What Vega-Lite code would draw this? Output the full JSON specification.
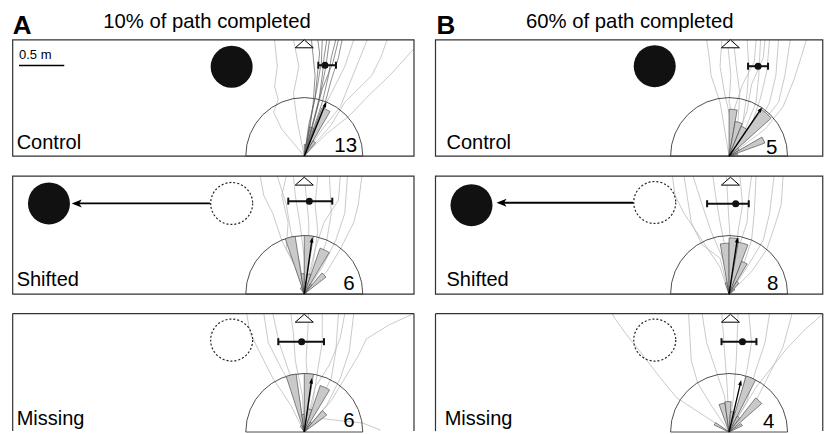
{
"$schema": "https://vega.github.io/schema/vega-lite/v6.json",
"width": 825, "height": 434,
"autosize": {"type": "fit", "contains": "padding"},
"padding": 0,
"background": "white",
"config": {"view": {"stroke": null}, "font": "Liberation Sans"},
"datasets": {
"frames": [
{"x":-3.24,"x2":1.219,"y":3.08,"y2":4.378},
{"x":1.458,"x2":5.761,"y":3.08,"y2":4.378},
{"x":-3.24,"x2":1.219,"y":1.54,"y2":2.856},
{"x":1.458,"x2":5.761,"y":1.54,"y2":2.856}
],
"frame3": [
{"x":-3.24,"x2":-3.24,"y":0.01,"y2":1.322},
{"x":-3.24,"x2":1.219,"y":1.322,"y2":1.322},
{"x":1.219,"x2":1.219,"y":0.01,"y2":1.322},
{"x":1.458,"x2":1.458,"y":0.01,"y2":1.322},
{"x":1.458,"x2":5.761,"y":1.322,"y2":1.322},
{"x":5.761,"x2":5.761,"y":0.01,"y2":1.322}
],
"semis": [
{"x":0,"y":3.08,"a0":270,"a1":450,"r":1},
{"x":4.72,"y":3.08,"a0":270,"a1":450,"r":1},
{"x":0,"y":1.54,"a0":270,"a1":450,"r":1},
{"x":4.72,"y":1.54,"a0":270,"a1":450,"r":1},
{"x":0,"y":0,"a0":270,"a1":450,"r":1},
{"x":4.72,"y":0,"a0":270,"a1":450,"r":1}
],
"wedges": [
{"x":0,"y":3.08,"a0":0,"a1":10,"r":0.2},
{"x":0,"y":3.08,"a0":10,"a1":20,"r":0.5},
{"x":0,"y":3.08,"a0":20,"a1":30,"r":0.88},
{"x":0,"y":3.08,"a0":30,"a1":40,"r":0.3},
{"x":4.72,"y":3.08,"a0":0,"a1":10,"r":0.8},
{"x":4.72,"y":3.08,"a0":10,"a1":22,"r":0.6},
{"x":4.72,"y":3.08,"a0":22,"a1":35,"r":0.55},
{"x":4.72,"y":3.08,"a0":35,"a1":48,"r":0.97},
{"x":4.72,"y":3.08,"a0":48,"a1":60,"r":0.2},
{"x":4.72,"y":3.08,"a0":60,"a1":70,"r":0.65},
{"x":4.72,"y":3.08,"a0":70,"a1":80,"r":0.15},
{"x":0,"y":1.54,"a0":325,"a1":341,"r":0.12},
{"x":0,"y":1.54,"a0":341,"a1":351,"r":1.0},
{"x":0,"y":1.54,"a0":351,"a1":360,"r":0.35},
{"x":0,"y":1.54,"a0":0,"a1":9,"r":1.0},
{"x":0,"y":1.54,"a0":9,"a1":19,"r":0.35},
{"x":0,"y":1.54,"a0":19,"a1":31,"r":0.83},
{"x":0,"y":1.54,"a0":31,"a1":40,"r":0.2},
{"x":0,"y":1.54,"a0":40,"a1":52,"r":0.47},
{"x":4.72,"y":1.54,"a0":340,"a1":350,"r":0.2},
{"x":4.72,"y":1.54,"a0":350,"a1":360,"r":0.87},
{"x":4.72,"y":1.54,"a0":0,"a1":10,"r":0.96},
{"x":4.72,"y":1.54,"a0":10,"a1":21,"r":0.9},
{"x":4.72,"y":1.54,"a0":21,"a1":31,"r":0.6},
{"x":4.72,"y":1.54,"a0":31,"a1":42,"r":0.25},
{"x":4.72,"y":1.54,"a0":42,"a1":55,"r":0.12},
{"x":0,"y":0,"a0":325,"a1":342,"r":0.12},
{"x":0,"y":0,"a0":342,"a1":352,"r":1.0},
{"x":0,"y":0,"a0":352,"a1":360,"r":0.3},
{"x":0,"y":0,"a0":0,"a1":9,"r":1.0},
{"x":0,"y":0,"a0":9,"a1":19,"r":0.4},
{"x":0,"y":0,"a0":19,"a1":31,"r":0.84},
{"x":0,"y":0,"a0":31,"a1":40,"r":0.2},
{"x":0,"y":0,"a0":40,"a1":53,"r":0.48},
{"x":4.72,"y":0,"a0":295,"a1":305,"r":0.28},
{"x":4.72,"y":0,"a0":340,"a1":352,"r":0.5},
{"x":4.72,"y":0,"a0":352,"a1":364,"r":0.52},
{"x":4.72,"y":0,"a0":4,"a1":17,"r":0.35},
{"x":4.72,"y":0,"a0":17,"a1":27,"r":1.0},
{"x":4.72,"y":0,"a0":27,"a1":38,"r":0.3},
{"x":4.72,"y":0,"a0":38,"a1":49,"r":0.74},
{"x":4.72,"y":0,"a0":55,"a1":65,"r":0.25}
],
"traj": [
{"id":"a1d1","g":"d","o":0,"x":0,"y":3.08},{"id":"a1d1","g":"d","o":1,"x":0.08,"y":3.38},{"id":"a1d1","g":"d","o":2,"x":0.16,"y":3.68},{"id":"a1d1","g":"d","o":3,"x":0.2,"y":3.98},{"id":"a1d1","g":"d","o":4,"x":0.22,"y":4.18},{"id":"a1d1","g":"d","o":5,"x":0.25,"y":4.378},
{"id":"a1d2","g":"d","o":0,"x":0,"y":3.08},{"id":"a1d2","g":"d","o":1,"x":0.1,"y":3.38},{"id":"a1d2","g":"d","o":2,"x":0.2,"y":3.68},{"id":"a1d2","g":"d","o":3,"x":0.27,"y":3.98},{"id":"a1d2","g":"d","o":4,"x":0.3,"y":4.18},{"id":"a1d2","g":"d","o":5,"x":0.35,"y":4.378},
{"id":"a1d3","g":"d","o":0,"x":0,"y":3.08},{"id":"a1d3","g":"d","o":1,"x":0.05,"y":3.43},{"id":"a1d3","g":"d","o":2,"x":0.12,"y":3.73},{"id":"a1d3","g":"d","o":3,"x":0.15,"y":4.03},{"id":"a1d3","g":"d","o":4,"x":0.17,"y":4.23},{"id":"a1d3","g":"d","o":5,"x":0.15,"y":4.378},
{"id":"a1d4","g":"d","o":0,"x":0,"y":3.08},{"id":"a1d4","g":"d","o":1,"x":0.12,"y":3.38},{"id":"a1d4","g":"d","o":2,"x":0.22,"y":3.63},{"id":"a1d4","g":"d","o":3,"x":0.3,"y":3.93},{"id":"a1d4","g":"d","o":4,"x":0.38,"y":4.18},{"id":"a1d4","g":"d","o":5,"x":0.42,"y":4.378},
{"id":"a1d5","g":"d","o":0,"x":0,"y":3.08},{"id":"a1d5","g":"d","o":1,"x":0.06,"y":3.38},{"id":"a1d5","g":"d","o":2,"x":0.1,"y":3.68},{"id":"a1d5","g":"d","o":3,"x":0.12,"y":3.98},{"id":"a1d5","g":"d","o":4,"x":0.1,"y":4.18},{"id":"a1d5","g":"d","o":5,"x":0.08,"y":4.378},
{"id":"a1d6","g":"d","o":0,"x":0,"y":3.08},{"id":"a1d6","g":"d","o":1,"x":0.09,"y":3.43},{"id":"a1d6","g":"d","o":2,"x":0.18,"y":3.78},{"id":"a1d6","g":"d","o":3,"x":0.24,"y":4.08},{"id":"a1d6","g":"d","o":4,"x":0.28,"y":4.378},
{"id":"a1d7","g":"d","o":0,"x":0,"y":3.08},{"id":"a1d7","g":"d","o":1,"x":0.07,"y":3.48},{"id":"a1d7","g":"d","o":2,"x":0.14,"y":3.83},{"id":"a1d7","g":"d","o":3,"x":0.19,"y":4.13},{"id":"a1d7","g":"d","o":4,"x":0.2,"y":4.378},
{"id":"a1d8","g":"d","o":0,"x":0,"y":3.08},{"id":"a1d8","g":"d","o":1,"x":0.11,"y":3.48},{"id":"a1d8","g":"d","o":2,"x":0.2,"y":3.83},{"id":"a1d8","g":"d","o":3,"x":0.32,"y":4.13},{"id":"a1d8","g":"d","o":4,"x":0.38,"y":4.378},
{"id":"a1l9","g":"l","o":0,"x":0,"y":3.08},{"id":"a1l9","g":"l","o":1,"x":-0.25,"y":3.38},{"id":"a1l9","g":"l","o":2,"x":-0.34,"y":3.57},{"id":"a1l9","g":"l","o":3,"x":-0.29,"y":3.71},{"id":"a1l9","g":"l","o":4,"x":-0.33,"y":3.86},{"id":"a1l9","g":"l","o":5,"x":-0.3,"y":4.08},{"id":"a1l9","g":"l","o":6,"x":-0.33,"y":4.378},
{"id":"a1l10","g":"l","o":0,"x":0,"y":3.08},{"id":"a1l10","g":"l","o":1,"x":0.25,"y":3.33},{"id":"a1l10","g":"l","o":2,"x":0.5,"y":3.53},{"id":"a1l10","g":"l","o":3,"x":0.73,"y":3.77},{"id":"a1l10","g":"l","o":4,"x":0.95,"y":3.98},{"id":"a1l10","g":"l","o":5,"x":1.219,"y":4.28},
{"id":"a1l11","g":"l","o":0,"x":0,"y":3.08},{"id":"a1l11","g":"l","o":1,"x":0.2,"y":3.38},{"id":"a1l11","g":"l","o":2,"x":0.4,"y":3.63},{"id":"a1l11","g":"l","o":3,"x":0.5,"y":3.88},{"id":"a1l11","g":"l","o":4,"x":0.6,"y":4.13},{"id":"a1l11","g":"l","o":5,"x":0.7,"y":4.378},
{"id":"a1l12","g":"l","o":0,"x":0,"y":3.08},{"id":"a1l12","g":"l","o":1,"x":0.15,"y":3.48},{"id":"a1l12","g":"l","o":2,"x":0.3,"y":3.78},{"id":"a1l12","g":"l","o":3,"x":0.45,"y":4.08},{"id":"a1l12","g":"l","o":4,"x":0.55,"y":4.378},
{"id":"a1l13","g":"l","o":0,"x":0,"y":3.08},{"id":"a1l13","g":"l","o":1,"x":-0.08,"y":3.48},{"id":"a1l13","g":"l","o":2,"x":-0.12,"y":3.78},{"id":"a1l13","g":"l","o":3,"x":-0.06,"y":4.08},{"id":"a1l13","g":"l","o":4,"x":-0.12,"y":4.378},
{"id":"a1l14","g":"l","o":0,"x":0,"y":3.08},{"id":"a1l14","g":"l","o":1,"x":0.3,"y":3.43},{"id":"a1l14","g":"l","o":2,"x":0.45,"y":3.68},{"id":"a1l14","g":"l","o":3,"x":0.75,"y":3.98},{"id":"a1l14","g":"l","o":4,"x":0.85,"y":4.18},{"id":"a1l14","g":"l","o":5,"x":0.92,"y":4.378},
{"id":"b1l1","g":"l","o":0,"x":4.72,"y":3.08},{"id":"b1l1","g":"l","o":1,"x":4.67,"y":3.38},{"id":"b1l1","g":"l","o":2,"x":4.62,"y":3.68},{"id":"b1l1","g":"l","o":3,"x":4.52,"y":3.98},{"id":"b1l1","g":"l","o":4,"x":4.5,"y":4.18},{"id":"b1l1","g":"l","o":5,"x":4.47,"y":4.378},
{"id":"b1l2","g":"l","o":0,"x":4.72,"y":3.08},{"id":"b1l2","g":"l","o":1,"x":4.74,"y":3.48},{"id":"b1l2","g":"l","o":2,"x":4.67,"y":3.78},{"id":"b1l2","g":"l","o":3,"x":4.62,"y":4.08},{"id":"b1l2","g":"l","o":4,"x":4.64,"y":4.378},
{"id":"b1l3","g":"l","o":0,"x":4.72,"y":3.08},{"id":"b1l3","g":"l","o":1,"x":4.82,"y":3.48},{"id":"b1l3","g":"l","o":2,"x":4.84,"y":3.78},{"id":"b1l3","g":"l","o":3,"x":4.8,"y":4.08},{"id":"b1l3","g":"l","o":4,"x":4.77,"y":4.378},
{"id":"b1l4","g":"l","o":0,"x":4.72,"y":3.08},{"id":"b1l4","g":"l","o":1,"x":4.87,"y":3.43},{"id":"b1l4","g":"l","o":2,"x":4.92,"y":3.78},{"id":"b1l4","g":"l","o":3,"x":4.94,"y":4.08},{"id":"b1l4","g":"l","o":4,"x":4.92,"y":4.378},
{"id":"b1l5","g":"l","o":0,"x":4.72,"y":3.08},{"id":"b1l5","g":"l","o":1,"x":4.9,"y":3.38},{"id":"b1l5","g":"l","o":2,"x":5.02,"y":3.68},{"id":"b1l5","g":"l","o":3,"x":5.05,"y":3.98},{"id":"b1l5","g":"l","o":4,"x":5.07,"y":4.378},
{"id":"b1l6","g":"l","o":0,"x":4.72,"y":3.08},{"id":"b1l6","g":"l","o":1,"x":4.97,"y":3.43},{"id":"b1l6","g":"l","o":2,"x":5.07,"y":3.73},{"id":"b1l6","g":"l","o":3,"x":5.14,"y":4.03},{"id":"b1l6","g":"l","o":4,"x":5.17,"y":4.378},
{"id":"b1l7","g":"l","o":0,"x":4.72,"y":3.08},{"id":"b1l7","g":"l","o":1,"x":5.02,"y":3.38},{"id":"b1l7","g":"l","o":2,"x":5.17,"y":3.68},{"id":"b1l7","g":"l","o":3,"x":5.24,"y":3.98},{"id":"b1l7","g":"l","o":4,"x":5.27,"y":4.378},
{"id":"b1l8","g":"l","o":0,"x":4.72,"y":3.08},{"id":"b1l8","g":"l","o":1,"x":5.07,"y":3.43},{"id":"b1l8","g":"l","o":2,"x":5.27,"y":3.68},{"id":"b1l8","g":"l","o":3,"x":5.34,"y":3.98},{"id":"b1l8","g":"l","o":4,"x":5.4,"y":4.378},
{"id":"b1l9","g":"l","o":0,"x":4.72,"y":3.08},{"id":"b1l9","g":"l","o":1,"x":5.12,"y":3.38},{"id":"b1l9","g":"l","o":2,"x":5.32,"y":3.63},{"id":"b1l9","g":"l","o":3,"x":5.44,"y":3.93},{"id":"b1l9","g":"l","o":4,"x":5.52,"y":4.18},{"id":"b1l9","g":"l","o":5,"x":5.58,"y":4.378},
{"id":"b1l10","g":"l","o":0,"x":4.72,"y":3.08},{"id":"b1l10","g":"l","o":1,"x":4.77,"y":3.58},{"id":"b1l10","g":"l","o":2,"x":4.87,"y":3.88},{"id":"b1l10","g":"l","o":3,"x":5.0,"y":4.13},{"id":"b1l10","g":"l","o":4,"x":5.02,"y":4.378},
{"id":"b1l11","g":"l","o":0,"x":4.72,"y":3.08},{"id":"b1l11","g":"l","o":1,"x":4.92,"y":3.58},{"id":"b1l11","g":"l","o":2,"x":4.97,"y":3.88},{"id":"b1l11","g":"l","o":3,"x":5.1,"y":4.18},{"id":"b1l11","g":"l","o":4,"x":5.12,"y":4.378},
{"id":"b1l12","g":"l","o":0,"x":4.72,"y":3.08},{"id":"b1l12","g":"l","o":1,"x":4.8,"y":3.38},{"id":"b1l12","g":"l","o":2,"x":4.72,"y":3.68},{"id":"b1l12","g":"l","o":3,"x":4.74,"y":3.98},{"id":"b1l12","g":"l","o":4,"x":4.7,"y":4.378},
{"id":"a2l1","g":"l","o":0,"x":0,"y":1.54},{"id":"a2l1","g":"l","o":1,"x":-0.1,"y":1.84},{"id":"a2l1","g":"l","o":2,"x":-0.25,"y":2.14},{"id":"a2l1","g":"l","o":3,"x":-0.35,"y":2.44},{"id":"a2l1","g":"l","o":4,"x":-0.45,"y":2.64},{"id":"a2l1","g":"l","o":5,"x":-0.49,"y":2.856},
{"id":"a2l2","g":"l","o":0,"x":0,"y":1.54},{"id":"a2l2","g":"l","o":1,"x":-0.05,"y":1.89},{"id":"a2l2","g":"l","o":2,"x":-0.15,"y":2.24},{"id":"a2l2","g":"l","o":3,"x":-0.2,"y":2.54},{"id":"a2l2","g":"l","o":4,"x":-0.3,"y":2.856},
{"id":"a2l3","g":"l","o":0,"x":0,"y":1.54},{"id":"a2l3","g":"l","o":1,"x":0,"y":1.94},{"id":"a2l3","g":"l","o":2,"x":-0.05,"y":2.34},{"id":"a2l3","g":"l","o":3,"x":-0.1,"y":2.64},{"id":"a2l3","g":"l","o":4,"x":-0.12,"y":2.856},
{"id":"a2l4","g":"l","o":0,"x":0,"y":1.54},{"id":"a2l4","g":"l","o":1,"x":0.05,"y":1.94},{"id":"a2l4","g":"l","o":2,"x":0.05,"y":2.34},{"id":"a2l4","g":"l","o":3,"x":0,"y":2.856},
{"id":"a2l5","g":"l","o":0,"x":0,"y":1.54},{"id":"a2l5","g":"l","o":1,"x":0.1,"y":1.89},{"id":"a2l5","g":"l","o":2,"x":0.15,"y":2.24},{"id":"a2l5","g":"l","o":3,"x":0.12,"y":2.54},{"id":"a2l5","g":"l","o":4,"x":0.15,"y":2.856},
{"id":"a2l6","g":"l","o":0,"x":0,"y":1.54},{"id":"a2l6","g":"l","o":1,"x":0.15,"y":1.84},{"id":"a2l6","g":"l","o":2,"x":0.25,"y":2.14},{"id":"a2l6","g":"l","o":3,"x":0.3,"y":2.44},{"id":"a2l6","g":"l","o":4,"x":0.28,"y":2.856},
{"id":"a2l7","g":"l","o":0,"x":0,"y":1.54},{"id":"a2l7","g":"l","o":1,"x":0.2,"y":1.84},{"id":"a2l7","g":"l","o":2,"x":0.35,"y":2.14},{"id":"a2l7","g":"l","o":3,"x":0.45,"y":2.44},{"id":"a2l7","g":"l","o":4,"x":0.48,"y":2.856},
{"id":"a2l8","g":"l","o":0,"x":0,"y":1.54},{"id":"a2l8","g":"l","o":1,"x":0.25,"y":1.79},{"id":"a2l8","g":"l","o":2,"x":0.4,"y":2.04},{"id":"a2l8","g":"l","o":3,"x":0.55,"y":2.34},{"id":"a2l8","g":"l","o":4,"x":0.6,"y":2.54},{"id":"a2l8","g":"l","o":5,"x":0.64,"y":2.856},
{"id":"a2l9","g":"l","o":0,"x":0,"y":1.54},{"id":"a2l9","g":"l","o":1,"x":-0.08,"y":1.84},{"id":"a2l9","g":"l","o":2,"x":-0.2,"y":2.04},{"id":"a2l9","g":"l","o":3,"x":-0.18,"y":2.34},{"id":"a2l9","g":"l","o":4,"x":-0.25,"y":2.64},{"id":"a2l9","g":"l","o":5,"x":-0.2,"y":2.856},
{"id":"a2l10","g":"l","o":0,"x":0,"y":1.54},{"id":"a2l10","g":"l","o":1,"x":0.12,"y":2.04},{"id":"a2l10","g":"l","o":2,"x":0.22,"y":2.34},{"id":"a2l10","g":"l","o":3,"x":0.38,"y":2.59},{"id":"a2l10","g":"l","o":4,"x":0.4,"y":2.856},
{"id":"b2l1","g":"l","o":0,"x":4.72,"y":1.54},{"id":"b2l1","g":"l","o":1,"x":4.62,"y":1.84},{"id":"b2l1","g":"l","o":2,"x":4.42,"y":2.14},{"id":"b2l1","g":"l","o":3,"x":4.22,"y":2.44},{"id":"b2l1","g":"l","o":4,"x":4.12,"y":2.64},{"id":"b2l1","g":"l","o":5,"x":4.09,"y":2.856},
{"id":"b2l2","g":"l","o":0,"x":4.72,"y":1.54},{"id":"b2l2","g":"l","o":1,"x":4.67,"y":1.89},{"id":"b2l2","g":"l","o":2,"x":4.52,"y":2.24},{"id":"b2l2","g":"l","o":3,"x":4.42,"y":2.54},{"id":"b2l2","g":"l","o":4,"x":4.32,"y":2.856},
{"id":"b2l3","g":"l","o":0,"x":4.72,"y":1.54},{"id":"b2l3","g":"l","o":1,"x":4.7,"y":1.94},{"id":"b2l3","g":"l","o":2,"x":4.62,"y":2.34},{"id":"b2l3","g":"l","o":3,"x":4.57,"y":2.64},{"id":"b2l3","g":"l","o":4,"x":4.54,"y":2.856},
{"id":"b2l4","g":"l","o":0,"x":4.72,"y":1.54},{"id":"b2l4","g":"l","o":1,"x":4.75,"y":1.94},{"id":"b2l4","g":"l","o":2,"x":4.72,"y":2.34},{"id":"b2l4","g":"l","o":3,"x":4.69,"y":2.856},
{"id":"b2l5","g":"l","o":0,"x":4.72,"y":1.54},{"id":"b2l5","g":"l","o":1,"x":4.8,"y":1.89},{"id":"b2l5","g":"l","o":2,"x":4.82,"y":2.24},{"id":"b2l5","g":"l","o":3,"x":4.87,"y":2.54},{"id":"b2l5","g":"l","o":4,"x":4.84,"y":2.856},
{"id":"b2l6","g":"l","o":0,"x":4.72,"y":1.54},{"id":"b2l6","g":"l","o":1,"x":4.87,"y":1.84},{"id":"b2l6","g":"l","o":2,"x":4.97,"y":2.14},{"id":"b2l6","g":"l","o":3,"x":5.0,"y":2.44},{"id":"b2l6","g":"l","o":4,"x":5.02,"y":2.856},
{"id":"b2l7","g":"l","o":0,"x":4.72,"y":1.54},{"id":"b2l7","g":"l","o":1,"x":4.92,"y":1.84},{"id":"b2l7","g":"l","o":2,"x":5.1,"y":2.14},{"id":"b2l7","g":"l","o":3,"x":5.17,"y":2.44},{"id":"b2l7","g":"l","o":4,"x":5.22,"y":2.856},
{"id":"b2l8","g":"l","o":0,"x":4.72,"y":1.54},{"id":"b2l8","g":"l","o":1,"x":4.97,"y":1.79},{"id":"b2l8","g":"l","o":2,"x":5.14,"y":2.04},{"id":"b2l8","g":"l","o":3,"x":5.24,"y":2.34},{"id":"b2l8","g":"l","o":4,"x":5.3,"y":2.54},{"id":"b2l8","g":"l","o":5,"x":5.32,"y":2.856},
{"id":"b2l9","g":"l","o":0,"x":4.72,"y":1.54},{"id":"b2l9","g":"l","o":1,"x":4.62,"y":1.94},{"id":"b2l9","g":"l","o":2,"x":4.42,"y":2.09},{"id":"b2l9","g":"l","o":3,"x":4.3,"y":2.34},{"id":"b2l9","g":"l","o":4,"x":4.22,"y":2.856},
{"id":"b2l10","g":"l","o":0,"x":4.72,"y":1.54},{"id":"b2l10","g":"l","o":1,"x":4.82,"y":2.04},{"id":"b2l10","g":"l","o":2,"x":4.92,"y":2.34},{"id":"b2l10","g":"l","o":3,"x":4.94,"y":2.64},{"id":"b2l10","g":"l","o":4,"x":4.97,"y":2.856},
{"id":"a3l1","g":"l","o":0,"x":0,"y":0},{"id":"a3l1","g":"l","o":1,"x":-0.15,"y":0.3},{"id":"a3l1","g":"l","o":2,"x":-0.35,"y":0.6},{"id":"a3l1","g":"l","o":3,"x":-0.5,"y":0.9},{"id":"a3l1","g":"l","o":4,"x":-0.6,"y":1.1},{"id":"a3l1","g":"l","o":5,"x":-0.64,"y":1.322},
{"id":"a3l2","g":"l","o":0,"x":0,"y":0},{"id":"a3l2","g":"l","o":1,"x":-0.05,"y":0.35},{"id":"a3l2","g":"l","o":2,"x":-0.18,"y":0.7},{"id":"a3l2","g":"l","o":3,"x":-0.28,"y":1.0},{"id":"a3l2","g":"l","o":4,"x":-0.35,"y":1.322},
{"id":"a3l3","g":"l","o":0,"x":0,"y":0},{"id":"a3l3","g":"l","o":1,"x":-0.02,"y":0.4},{"id":"a3l3","g":"l","o":2,"x":-0.1,"y":0.8},{"id":"a3l3","g":"l","o":3,"x":-0.12,"y":1.1},{"id":"a3l3","g":"l","o":4,"x":-0.15,"y":1.322},
{"id":"a3l4","g":"l","o":0,"x":0,"y":0},{"id":"a3l4","g":"l","o":1,"x":0.05,"y":0.4},{"id":"a3l4","g":"l","o":2,"x":0.02,"y":0.8},{"id":"a3l4","g":"l","o":3,"x":0.05,"y":1.322},
{"id":"a3l5","g":"l","o":0,"x":0,"y":0},{"id":"a3l5","g":"l","o":1,"x":0.1,"y":0.35},{"id":"a3l5","g":"l","o":2,"x":0.15,"y":0.7},{"id":"a3l5","g":"l","o":3,"x":0.2,"y":1.0},{"id":"a3l5","g":"l","o":4,"x":0.2,"y":1.322},
{"id":"a3l6","g":"l","o":0,"x":0,"y":0},{"id":"a3l6","g":"l","o":1,"x":0.15,"y":0.3},{"id":"a3l6","g":"l","o":2,"x":0.3,"y":0.6},{"id":"a3l6","g":"l","o":3,"x":0.35,"y":0.9},{"id":"a3l6","g":"l","o":4,"x":0.38,"y":1.322},
{"id":"a3l7","g":"l","o":0,"x":0,"y":0},{"id":"a3l7","g":"l","o":1,"x":0.25,"y":0.3},{"id":"a3l7","g":"l","o":2,"x":0.4,"y":0.6},{"id":"a3l7","g":"l","o":3,"x":0.5,"y":0.9},{"id":"a3l7","g":"l","o":4,"x":0.55,"y":1.322},
{"id":"a3l8","g":"l","o":0,"x":0,"y":0},{"id":"a3l8","g":"l","o":1,"x":0.3,"y":0.35},{"id":"a3l8","g":"l","o":2,"x":0.45,"y":0.6},{"id":"a3l8","g":"l","o":3,"x":0.6,"y":0.85},{"id":"a3l8","g":"l","o":4,"x":0.69,"y":1.04},{"id":"a3l8","g":"l","o":5,"x":0.95,"y":1.2},{"id":"a3l8","g":"l","o":6,"x":1.219,"y":1.322},
{"id":"a3l9","g":"l","o":0,"x":0,"y":0.01},{"id":"a3l9","g":"l","o":1,"x":0.2,"y":0.15},{"id":"a3l9","g":"l","o":2,"x":0.45,"y":0.12},{"id":"a3l9","g":"l","o":3,"x":0.65,"y":0.1},{"id":"a3l9","g":"l","o":4,"x":0.85,"y":0.02},
{"id":"a3l10","g":"l","o":0,"x":0,"y":0},{"id":"a3l10","g":"l","o":1,"x":-0.1,"y":0.45},{"id":"a3l10","g":"l","o":2,"x":-0.25,"y":0.7},{"id":"a3l10","g":"l","o":3,"x":-0.4,"y":1.0},{"id":"a3l10","g":"l","o":4,"x":-0.45,"y":1.322},
{"id":"a3l11","g":"l","o":0,"x":0,"y":0},{"id":"a3l11","g":"l","o":1,"x":0.12,"y":0.5},{"id":"a3l11","g":"l","o":2,"x":0.28,"y":0.75},{"id":"a3l11","g":"l","o":3,"x":0.4,"y":1.05},{"id":"a3l11","g":"l","o":4,"x":0.45,"y":1.322},
{"id":"b3l1","g":"l","o":0,"x":4.72,"y":0},{"id":"b3l1","g":"l","o":1,"x":4.43,"y":0.19},{"id":"b3l1","g":"l","o":2,"x":4.14,"y":0.38},{"id":"b3l1","g":"l","o":3,"x":3.92,"y":0.65},{"id":"b3l1","g":"l","o":4,"x":3.73,"y":0.9},{"id":"b3l1","g":"l","o":5,"x":3.57,"y":1.1},{"id":"b3l1","g":"l","o":6,"x":3.45,"y":1.27},{"id":"b3l1","g":"l","o":7,"x":3.42,"y":1.322},
{"id":"b3l2","g":"l","o":0,"x":4.72,"y":0},{"id":"b3l2","g":"l","o":1,"x":4.87,"y":0.25},{"id":"b3l2","g":"l","o":2,"x":5.02,"y":0.5},{"id":"b3l2","g":"l","o":3,"x":5.36,"y":0.93},{"id":"b3l2","g":"l","o":4,"x":5.57,"y":1.15},{"id":"b3l2","g":"l","o":5,"x":5.73,"y":1.29},{"id":"b3l2","g":"l","o":6,"x":5.76,"y":1.322},
{"id":"b3l3","g":"l","o":0,"x":4.72,"y":0},{"id":"b3l3","g":"l","o":1,"x":4.67,"y":0.4},{"id":"b3l3","g":"l","o":2,"x":4.57,"y":0.7},{"id":"b3l3","g":"l","o":3,"x":4.47,"y":1.0},{"id":"b3l3","g":"l","o":4,"x":4.42,"y":1.322},
{"id":"b3l4","g":"l","o":0,"x":4.72,"y":0},{"id":"b3l4","g":"l","o":1,"x":4.7,"y":0.5},{"id":"b3l4","g":"l","o":2,"x":4.67,"y":0.9},{"id":"b3l4","g":"l","o":3,"x":4.64,"y":1.322},
{"id":"b3l5","g":"l","o":0,"x":4.72,"y":0},{"id":"b3l5","g":"l","o":1,"x":4.77,"y":0.4},{"id":"b3l5","g":"l","o":2,"x":4.8,"y":0.8},{"id":"b3l5","g":"l","o":3,"x":4.82,"y":1.322},
{"id":"b3l6","g":"l","o":0,"x":4.72,"y":0},{"id":"b3l6","g":"l","o":1,"x":4.84,"y":0.35},{"id":"b3l6","g":"l","o":2,"x":4.92,"y":0.7},{"id":"b3l6","g":"l","o":3,"x":4.97,"y":1.0},{"id":"b3l6","g":"l","o":4,"x":4.94,"y":1.322},
{"id":"b3l7","g":"l","o":0,"x":4.72,"y":0},{"id":"b3l7","g":"l","o":1,"x":4.92,"y":0.35},{"id":"b3l7","g":"l","o":2,"x":5.02,"y":0.7},{"id":"b3l7","g":"l","o":3,"x":5.12,"y":1.0},{"id":"b3l7","g":"l","o":4,"x":5.17,"y":1.322},
{"id":"b3l8","g":"l","o":0,"x":4.72,"y":0},{"id":"b3l8","g":"l","o":1,"x":5.02,"y":0.35},{"id":"b3l8","g":"l","o":2,"x":5.17,"y":0.65},{"id":"b3l8","g":"l","o":3,"x":5.32,"y":0.95},{"id":"b3l8","g":"l","o":4,"x":5.42,"y":1.322},
{"id":"b3l9","g":"l","o":0,"x":4.72,"y":0},{"id":"b3l9","g":"l","o":1,"x":4.52,"y":0.3},{"id":"b3l9","g":"l","o":2,"x":4.37,"y":0.55},{"id":"b3l9","g":"l","o":3,"x":4.3,"y":0.8},{"id":"b3l9","g":"l","o":4,"x":4.27,"y":1.322}
],
"mv": [
{"x":0,"y":3.08,"x2":0.233,"y2":3.657},
{"x":4.72,"y":3.08,"x2":5.071,"y2":3.601},
{"x":0,"y":1.54,"x2":0.085,"y2":2.145},
{"x":4.72,"y":1.54,"x2":4.81,"y2":2.144},
{"x":0,"y":0,"x2":0.08,"y2":0.572},
{"x":4.72,"y":0,"x2":4.848,"y2":0.552}
],
"mvhead": [
{"x":0.233,"y":3.657,"ang":22},
{"x":5.071,"y":3.601,"ang":34},
{"x":0.085,"y":2.145,"ang":8},
{"x":4.81,"y":2.144,"ang":8.5},
{"x":0.08,"y":0.572,"ang":8},
{"x":4.848,"y":0.552,"ang":13}
],
"landmark": [
{"x":-0.807,"y":4.077},{"x":3.894,"y":4.083},{"x":-2.837,"y":2.551},{"x":1.858,"y":2.532}
],
"oldmark": [
{"x":-0.807,"y":2.551},{"x":3.894,"y":2.562},{"x":-0.807,"y":1.026},{"x":3.894,"y":1.026}
],
"shift": [
{"x":-1.048,"x2":-2.55,"y":2.551},{"x":3.653,"x2":2.17,"y":2.559}
],
"shifthead": [
{"x":-2.584,"y":2.551},{"x":2.136,"y":2.559}
],
"goal": [
{"x":0,"y":4.333},{"x":4.735,"y":4.333},{"x":0,"y":2.8},{"x":4.735,"y":2.8},{"x":0,"y":1.27},{"x":4.735,"y":1.27}
],
"errbar": [
{"x":0.156,"x2":0.352,"y":4.094},
{"x":4.931,"x2":5.153,"y":4.083},
{"x":-0.178,"x2":0.311,"y":2.577},
{"x":4.476,"x2":4.939,"y":2.548},
{"x":-0.289,"x2":0.219,"y":1.008},
{"x":4.636,"x2":5.024,"y":1.008}
],
"errcap": [
{"x":0.156,"y":4.094},{"x":0.352,"y":4.094},
{"x":4.931,"y":4.083},{"x":5.153,"y":4.083},
{"x":-0.178,"y":2.577},{"x":0.311,"y":2.577},
{"x":4.476,"y":2.548},{"x":4.939,"y":2.548},
{"x":-0.289,"y":1.008},{"x":0.219,"y":1.008},
{"x":4.636,"y":1.008},{"x":5.024,"y":1.008}
],
"errdot": [
{"x":0.23,"y":4.094},{"x":5.042,"y":4.083},{"x":0.056,"y":2.577},{"x":4.794,"y":2.548},{"x":-0.029,"y":1.008},{"x":4.869,"y":1.008}
],
"scalebar": [{"x":-3.17,"x2":-2.667,"y":4.091}],
"texts": [
{"k":"head","t":"A","x":-3.24,"y":4.444},
{"k":"head","t":"B","x":1.469,"y":4.444},
{"k":"title","t":"10% of path completed","x":-1.081,"y":4.506},
{"k":"title","t":"60% of path completed","x":3.617,"y":4.506},
{"k":"label","t":"Control","x":-3.196,"y":3.158},
{"k":"label","t":"Control","x":1.58,"y":3.158},
{"k":"label","t":"Shifted","x":-3.196,"y":1.626},
{"k":"label","t":"Shifted","x":1.58,"y":1.626},
{"k":"label","t":"Missing","x":-3.196,"y":0.081},
{"k":"label","t":"Missing","x":1.56,"y":0.081},
{"k":"num","t":"13","x":0.46,"y":3.121},
{"k":"num","t":"5","x":5.194,"y":3.102},
{"k":"num","t":"6","x":0.497,"y":1.588},
{"k":"num","t":"8","x":5.206,"y":1.588},
{"k":"num","t":"6","x":0.497,"y":0.052},
{"k":"num","t":"4","x":5.161,"y":0.044},
{"k":"scale","t":"0.5 m","x":-3.17,"y":4.166}
]
},
"encoding": {
"x": {"field": "x", "type": "quantitative", "axis": null, "scale": {"domain": [-3.381, 5.786], "nice": false, "zero": false}},
"y": {"field": "y", "type": "quantitative", "axis": null, "scale": {"domain": [0, 4.8222], "nice": false, "zero": false}}
},
"layer": [
{"data": {"name": "traj"}, "transform": [{"filter": "datum.g == 'l'"}],
 "mark": {"type": "line", "stroke": "#b3b3b3", "strokeWidth": 0.7},
 "encoding": {"detail": {"field": "id"}, "order": {"field": "o", "type": "quantitative"}}},
{"data": {"name": "semis"},
 "mark": {"type": "arc", "fill": "white", "fillOpacity": 0, "stroke": "#222", "strokeWidth": 0.8},
 "encoding": {
  "theta": {"field": "a0", "type": "quantitative", "stack": null, "scale": {"domain": [0, 360], "range": [0, 6.283185307]}},
  "theta2": {"field": "a1"},
  "radius": {"field": "r", "type": "quantitative", "scale": {"type": "linear", "domain": [0, 1], "range": [0, 58.5], "zero": true}}}},
{"data": {"name": "wedges"},
 "mark": {"type": "arc", "fill": "#c9c9c9", "stroke": "#3a3a3a", "strokeWidth": 0.6},
 "encoding": {
  "theta": {"field": "a0", "type": "quantitative", "stack": null, "scale": {"domain": [0, 360], "range": [0, 6.283185307]}},
  "theta2": {"field": "a1"},
  "radius": {"field": "r", "type": "quantitative", "scale": {"type": "linear", "domain": [0, 1], "range": [0, 58.5], "zero": true}}}},
{"data": {"name": "traj"}, "transform": [{"filter": "datum.g == 'd'"}],
 "mark": {"type": "line", "stroke": "#606060", "strokeWidth": 0.7},
 "encoding": {"detail": {"field": "id"}, "order": {"field": "o", "type": "quantitative"}}},
{"data": {"name": "frames"},
 "mark": {"type": "rect", "fill": "white", "fillOpacity": 0, "stroke": "#333", "strokeWidth": 1.2},
 "encoding": {"x2": {"field": "x2"}, "y2": {"field": "y2"}}},
{"data": {"name": "frame3"},
 "mark": {"type": "rule", "color": "#333", "strokeWidth": 1.2},
 "encoding": {"x2": {"field": "x2"}, "y2": {"field": "y2"}}},
{"data": {"name": "mv"},
 "mark": {"type": "rule", "color": "black", "strokeWidth": 1.3},
 "encoding": {"x2": {"field": "x2"}, "y2": {"field": "y2"}}},
{"data": {"name": "mvhead"},
 "mark": {"type": "point", "shape": "M0,-1L0.7,1L-0.7,1Z", "filled": true, "color": "black", "opacity": 1, "size": 30},
 "encoding": {"angle": {"field": "ang", "type": "quantitative", "scale": null}}},
{"data": {"name": "landmark"},
 "mark": {"type": "point", "shape": "circle", "filled": true, "color": "#111", "opacity": 1, "size": 1764}},
{"data": {"name": "oldmark"},
 "mark": {"type": "point", "shape": "circle", "filled": false, "color": "#222", "opacity": 1, "size": 1764, "strokeWidth": 1.2, "strokeDash": [2, 2]}},
{"data": {"name": "shift"},
 "mark": {"type": "rule", "color": "black", "strokeWidth": 1.8},
 "encoding": {"x2": {"field": "x2"}}},
{"data": {"name": "shifthead"},
 "mark": {"type": "point", "shape": "M0,0L2,-0.8L1.5,0L2,0.8Z", "filled": true, "color": "black", "opacity": 1, "size": 100}},
{"data": {"name": "goal"},
 "mark": {"type": "point", "shape": "M-1,0.44L1,0.44L0,-0.44Z", "filled": true, "fill": "white", "stroke": "black", "strokeWidth": 1, "opacity": 1, "size": 324}},
{"data": {"name": "errbar"},
 "mark": {"type": "rule", "color": "#111", "strokeWidth": 2},
 "encoding": {"x2": {"field": "x2"}}},
{"data": {"name": "errcap"},
 "mark": {"type": "point", "shape": "M0,-1L0,1", "filled": false, "color": "#111", "strokeWidth": 2, "opacity": 1, "size": 49}},
{"data": {"name": "errdot"},
 "mark": {"type": "point", "shape": "circle", "filled": true, "color": "#111", "opacity": 1, "size": 49}},
{"data": {"name": "scalebar"},
 "mark": {"type": "rule", "color": "black", "strokeWidth": 1.3},
 "encoding": {"x2": {"field": "x2"}}},
{"data": {"name": "texts"}, "transform": [{"filter": "datum.k == 'head'"}],
 "mark": {"type": "text", "align": "left", "baseline": "alphabetic", "fontSize": 26, "fontWeight": "bold", "color": "black"},
 "encoding": {"text": {"field": "t"}}},
{"data": {"name": "texts"}, "transform": [{"filter": "datum.k == 'title'"}],
 "mark": {"type": "text", "align": "center", "baseline": "alphabetic", "fontSize": 20.3, "color": "black"},
 "encoding": {"text": {"field": "t"}}},
{"data": {"name": "texts"}, "transform": [{"filter": "datum.k == 'label'"}],
 "mark": {"type": "text", "align": "left", "baseline": "alphabetic", "fontSize": 20, "color": "black"},
 "encoding": {"text": {"field": "t"}}},
{"data": {"name": "texts"}, "transform": [{"filter": "datum.k == 'num'"}],
 "mark": {"type": "text", "align": "center", "baseline": "alphabetic", "fontSize": 20.5, "color": "black"},
 "encoding": {"text": {"field": "t"}}},
{"data": {"name": "texts"}, "transform": [{"filter": "datum.k == 'scale'"}],
 "mark": {"type": "text", "align": "left", "baseline": "alphabetic", "fontSize": 13, "color": "black"},
 "encoding": {"text": {"field": "t"}}}
]
}
